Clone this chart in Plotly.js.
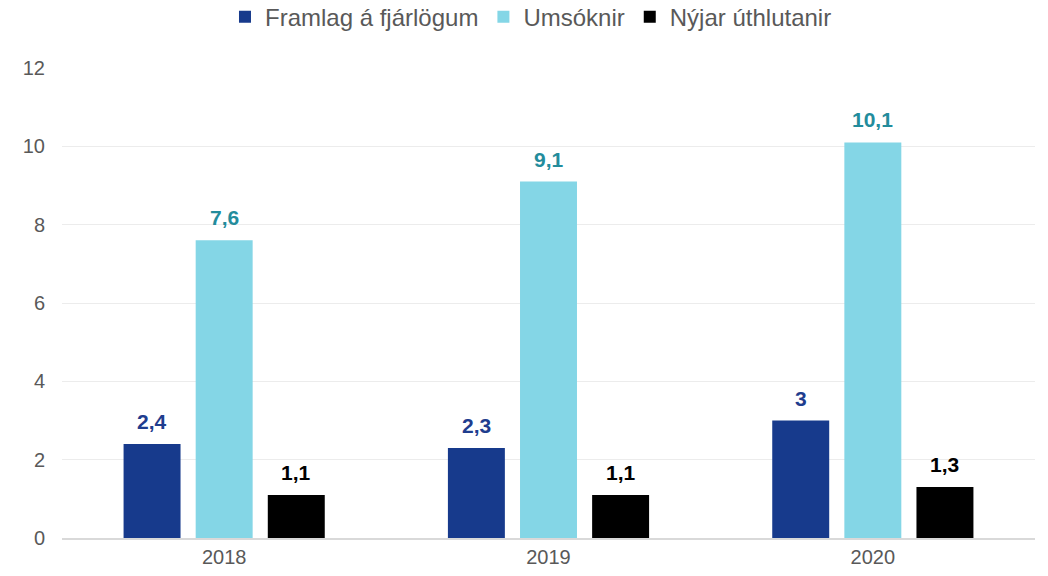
<!DOCTYPE html>
<html>
<head>
<meta charset="utf-8">
<script src="https://cdn.plot.ly/plotly-3.0.1.min.js"></script>
<style>html,body{margin:0;padding:0;background:#fff;}#chart{width:1048px;height:576px;}</style>
</head>
<body>
<div id="chart"></div>
<script>
const categories = ["2018", "2019", "2020"];
const seriesNames = ["Framlag á fjárlögum", "Umsóknir", "Nýjar úthlutanir"];
const framlag = [2.4, 2.3, 3.0];
const umsoknir = [7.6, 9.1, 10.1];
const nyjar = [1.1, 1.1, 1.3];
const yTicks = [0, 2, 4, 6, 8, 10, 12];

const barColors = ["#173A8C", "#84D6E6", "#000000"];
const labelColors = ["#1F3D8E", "#238C9C", "#000000"];
const allSeries = [framlag, umsoknir, nyjar];

function fmt(v) {
  return Number.isInteger(v) ? String(v) : v.toString().replace('.', ',');
}

const traces = allSeries.map((vals, i) => ({
  type: 'bar',
  name: seriesNames[i],
  x: categories,
  y: vals,
  marker: {color: barColors[i]},
  hoverinfo: 'none'
}));

const annotations = [];
const nS = allSeries.length;
allSeries.forEach((vals, i) => {
  vals.forEach((v, j) => {
    annotations.push({
      x: j, y: v, xref: 'x', yref: 'y',
      text: '<b>' + fmt(v) + '</b>',
      showarrow: false,
      yanchor: 'bottom',
      yshift: 9,
      xshift: (i - (nS - 1) / 2) * 72,
      font: {family: 'Liberation Sans, Arial, sans-serif', size: 21, color: labelColors[i]}
    });
  });
});

const layout = {
  width: 1048, height: 576,
  margin: {l: 62, r: 13, t: 68, b: 38, autoexpand: false},
  paper_bgcolor: '#ffffff',
  plot_bgcolor: '#ffffff',
  barmode: 'group',
  bargap: 0.333,
  bargroupgap: 0.21,
  font: {family: 'Liberation Sans, Arial, sans-serif', color: '#595959'},
  showlegend: true,
  legend: {
    orientation: 'h', x: 0.482, xanchor: 'center', y: 1.108, yanchor: 'middle',
    font: {size: 24, color: '#595959'},
    traceorder: 'normal', itemwidth: 30
  },
  xaxis: {
    type: 'category',
    tickfont: {size: 20, color: '#595959'},
    showgrid: false,
    showline: true, linecolor: '#d9d9d9', linewidth: 1.5,
    ticks: '', ticklen: 0
  },
  yaxis: {
    range: [0, 12],
    tickvals: yTicks,
    ticktext: yTicks.map(String),
    tickfont: {size: 20, color: '#595959'},
    showgrid: true, gridcolor: '#ececec', gridwidth: 1,
    zeroline: false,
    showline: false,
    ticks: '', ticklabelstandoff: 16
  },
  annotations: annotations
};

Plotly.newPlot('chart', traces, layout, {displayModeBar: false, staticPlot: true});
</script>
</body>
</html>
